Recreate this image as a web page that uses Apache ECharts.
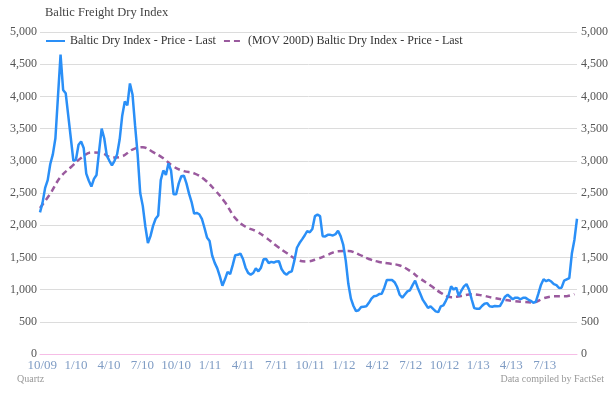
<!DOCTYPE html>
<html>
<head>
<meta charset="utf-8">
<script src="https://cdn.jsdelivr.net/npm/echarts@6/dist/echarts.min.js"></script>
<style>
  html, body { margin: 0; padding: 0; background: #fff; }
  #chart { width: 611px; height: 396px; }
</style>
</head>
<body>
<div id="chart"></div>
<script>
// weekly closes, first week ending 2009-09-25
const bdiStart = '2009-09-25';
const bdiWeekly = [
  2200, 2350, 2580, 2700, 2950, 3100, 3350, 4000, 4650, 4100,
  4050, 3700, 3350, 3000, 3020, 3250, 3300, 3200, 2800, 2690,
  2600, 2720, 2780, 3150, 3500, 3350, 3080, 3000, 2930, 3000,
  3100, 3330, 3700, 3920, 3860, 4200, 4030, 3550, 3100, 2500,
  2300, 1980, 1723, 1830, 1990, 2100, 2150, 2700, 2850, 2780,
  2960, 2850, 2480, 2480, 2650, 2760, 2770, 2650, 2490, 2360,
  2180, 2190, 2170, 2100, 1960, 1810, 1755, 1530, 1415, 1330,
  1205, 1060, 1160, 1275, 1240, 1380, 1535, 1540, 1560, 1475,
  1340, 1260, 1232, 1258, 1330, 1284, 1340, 1470, 1475, 1413,
  1430, 1420, 1438, 1440, 1320, 1260, 1232, 1270, 1284, 1450,
  1650, 1723, 1780, 1840, 1910, 1890, 1940, 2140, 2163, 2140,
  1830, 1826, 1850, 1850, 1840, 1860, 1915, 1830, 1700, 1450,
  1090, 860, 745, 665, 680, 730, 735, 740, 795, 860,
  898, 905, 930, 935, 1030, 1150, 1150, 1150, 1115, 1040,
  920, 875, 925, 973, 990, 1070, 1140, 1030, 935, 840,
  780, 715, 740, 700, 662, 650, 740, 755, 830, 910,
  1050, 1000, 1030, 900, 985, 1050, 1085, 998, 850, 712,
  703, 702, 745, 780, 790, 740, 735, 745, 740, 745,
  815, 890, 920, 885, 850, 875, 872, 850, 872, 872,
  845, 825, 795, 815, 940, 1076, 1160, 1130, 1150, 1125,
  1085, 1070, 1025, 1030, 1140, 1160, 1180, 1560, 1775, 2100
];

// 200-day moving average, one reading every 4 weeks
const maStepDays = 28;
const ma200 = [
  2267, 2490, 2750, 2900, 3043, 3130, 3120, 3050, 3070, 3175,
  3210, 3135, 3040, 2910, 2840, 2806, 2710, 2550, 2355, 2110,
  1976, 1910, 1807, 1680, 1568, 1464, 1438, 1478, 1540, 1597,
  1600, 1548, 1475, 1430, 1404, 1375, 1290, 1170, 1065, 950,
  882, 902, 928, 910, 875, 846, 825, 809, 800, 865,
  895, 895, 930
];

const quarterTicks = [
  '2009-10-01', '2010-01-01', '2010-04-01', '2010-07-01',
  '2010-10-01', '2011-01-01', '2011-04-01', '2011-07-01',
  '2011-10-01', '2012-01-01', '2012-04-01', '2012-07-01',
  '2012-10-01', '2013-01-01', '2013-04-01', '2013-07-01'
];

const seriesNames = ['Baltic Dry Index - Price - Last', '(MOV 200D) Baltic Dry Index - Price - Last'];

const DAY = 24 * 3600 * 1000;
const t0 = +new Date(bdiStart);
const bdiData = bdiWeekly.map((v, i) => [t0 + i * 7 * DAY, v]);
const maData = ma200.map((v, i) => [t0 + i * maStepDays * DAY, v]);

const serif = '"Liberation Serif", "DejaVu Serif", serif';

const myChart = echarts.init(document.getElementById('chart'));
const yLabel = {
  fontSize: 12,
  fontFamily: serif,
  color: '#555',
  formatter: v => v.toLocaleString('en-US')
};
const option = {
  animation: false,
  title: [
    {
      text: 'Baltic Freight Dry Index',
      left: 40, top: 1,
      textStyle: { fontSize: 12.5, fontWeight: 'normal', color: '#444', fontFamily: serif }
    },
    {
      text: 'Quartz',
      left: 12, top: 369,
      textStyle: { fontSize: 10, fontWeight: 'normal', color: '#999', fontFamily: serif }
    },
    {
      text: 'Data compiled by FactSet',
      right: 2, top: 369,
      textStyle: { fontSize: 10, fontWeight: 'normal', color: '#999', fontFamily: serif }
    }
  ],
  legend: {
    data: seriesNames,
    left: 40, top: 30,
    itemWidth: 19, itemHeight: 10,
    itemGap: 7,
    itemStyle: { opacity: 0 },
    textStyle: { fontSize: 12, color: '#333', fontFamily: serif }
  },
  grid: { left: 40, right: 34, top: 32, bottom: 42 },
  xAxis: {
    type: 'value',
    min: t0,
    max: t0 + (bdiWeekly.length - 1) * 7 * DAY,
    axisLine: { onZero: false, lineStyle: { color: '#f6bde6', width: 1 } },
    axisTick: { show: false },
    splitLine: { show: false },
    axisLabel: {
      customValues: quarterTicks.map(d => +new Date(d)),
      fontSize: 13,
      fontFamily: serif,
      color: '#7f9cc4',
      margin: 5,
      hideOverlap: false,
      formatter: v => {
        const d = new Date(v);
        return (d.getUTCMonth() + 1) + '/' + String(d.getUTCFullYear()).slice(2);
      }
    }
  },
  yAxis: [
    {
      type: 'value', min: 0, max: 5000, interval: 500,
      axisLine: { show: false }, axisTick: { show: false },
      axisLabel: Object.assign({ margin: 3 }, yLabel),
      splitLine: { lineStyle: { color: '#dcdcdc', width: 1 } }
    },
    {
      type: 'value', min: 0, max: 5000, interval: 500, position: 'right',
      axisLine: { show: false }, axisTick: { show: false },
      axisLabel: Object.assign({ margin: 4 }, yLabel),
      splitLine: { show: false }
    }
  ],
  series: [
    {
      name: seriesNames[0],
      type: 'line',
      data: bdiData,
      symbol: 'none',
      lineStyle: { color: '#2a8ff7', width: 2.5 },
      itemStyle: { color: '#2a8ff7' },
      z: 3
    },
    {
      name: seriesNames[1],
      type: 'line',
      data: maData,
      symbol: 'none',
      smooth: 0.4,
      lineStyle: { color: '#9a5a9e', width: 2.5, type: [6, 4] },
      itemStyle: { color: '#9a5a9e' },
      z: 2
    }
  ]
};
myChart.setOption(option);
</script>
</body>
</html>
